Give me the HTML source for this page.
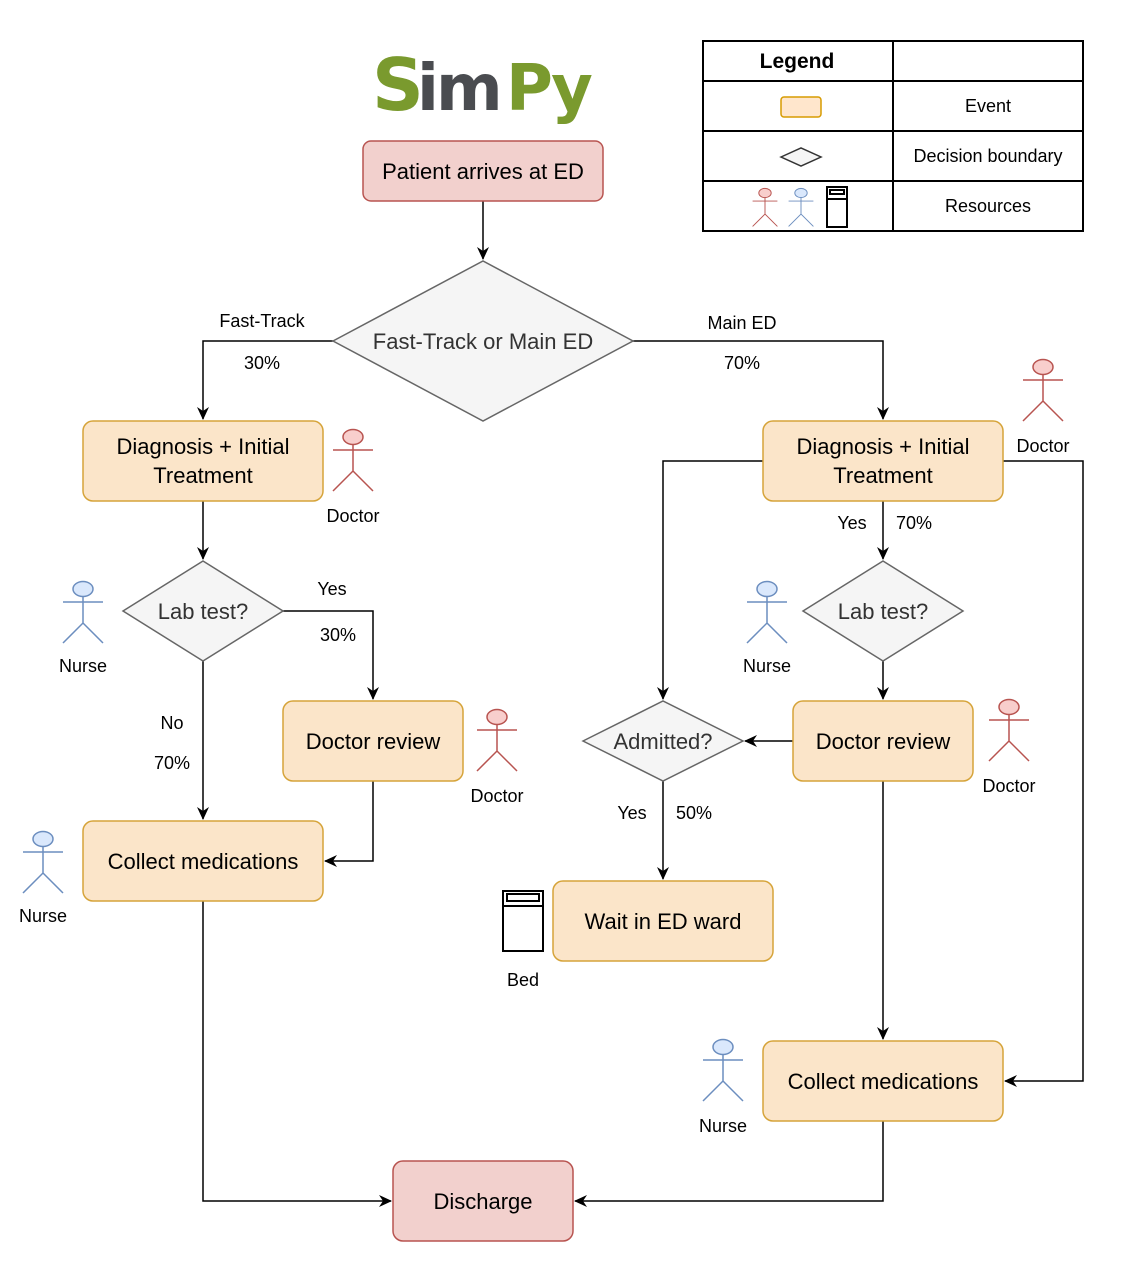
<!DOCTYPE html>
<html><head><meta charset="utf-8"><style>
html,body{margin:0;padding:0;background:#fff;}
svg{display:block;font-family:"Liberation Sans",Arial,sans-serif;}
</style></head><body>
<svg width="1132" height="1272" viewBox="0 0 1132 1272" xmlns="http://www.w3.org/2000/svg">
<defs>
<marker id="a" markerWidth="14" markerHeight="14" refX="12" refY="7" orient="auto" markerUnits="userSpaceOnUse">
<path d="M0,1 L13,7 L0,13 L4,7 Z" fill="#000"/>
</marker>
<g id="doc"><ellipse cx="0" cy="0" rx="10" ry="7.5" fill="#f8cecc" stroke="#b85450" stroke-width="1.5"/><path d="M0,7.5 V34 M-20,13 H20 M-20,54 L0,34 L20,54" stroke="#b85450" stroke-width="1.5" fill="none"/></g>
<g id="nur"><ellipse cx="0" cy="0" rx="10" ry="7.5" fill="#dae8fc" stroke="#6c8ebf" stroke-width="1.5"/><path d="M0,7.5 V34 M-20,13 H20 M-20,54 L0,34 L20,54" stroke="#6c8ebf" stroke-width="1.5" fill="none"/></g>
</defs>

<!-- logo -->
<text x="372" y="110" font-size="72" font-weight="bold" fill="#7a9a2e" font-family="DejaVu Sans, sans-serif">S</text>
<text x="417" y="110" font-size="64" font-weight="bold" fill="#4a4c50" font-family="DejaVu Sans, sans-serif" letter-spacing="-3">im</text>
<text x="506" y="110" font-size="64" font-weight="bold" fill="#7a9a2e" font-family="DejaVu Sans, sans-serif" letter-spacing="-3">Py</text>

<!-- legend -->
<g stroke="#000" stroke-width="2" fill="none">
<rect x="703" y="41" width="380" height="190"/>
<path d="M893,41 V231 M703,81 H1083 M703,131 H1083 M703,181 H1083"/>
</g>
<text x="797" y="68" font-size="21" font-weight="bold" text-anchor="middle">Legend</text>
<rect x="781" y="97" width="40" height="20" rx="3" fill="#ffe6cc" stroke="#d79b00" stroke-width="1.5"/>
<text x="988" y="112" font-size="18" text-anchor="middle">Event</text>
<path d="M781,157 L801,148 L821,157 L801,166 Z" fill="#f5f5f5" stroke="#333" stroke-width="1.5"/>
<text x="988" y="162" font-size="18" text-anchor="middle">Decision boundary</text>
<text x="988" y="212" font-size="18" text-anchor="middle">Resources</text>
<g transform="translate(765,193) scale(0.62)"><use href="#doc"/></g>
<g transform="translate(801,193) scale(0.62)"><use href="#nur"/></g>
<g fill="none" stroke="#000" stroke-width="2"><rect x="827" y="187" width="20" height="40"/><rect x="830" y="190" width="14" height="4"/><path d="M827,199 H847"/></g>

<!-- connectors -->
<g stroke="#000" stroke-width="1.5" fill="none" marker-end="url(#a)">
<path d="M483,201 V259"/>
<path d="M333,341 H203 V419"/>
<path d="M633,341 H883 V419"/>
<path d="M203,501 V559"/>
<path d="M283,611 H373 V699"/>
<path d="M203,661 V819"/>
<path d="M373,781 V861 H325"/>
<path d="M203,901 V1201 H391"/>
<path d="M763,461 H663 V699"/>
<path d="M1003,461 H1083 V1081 H1005"/>
<path d="M883,501 V559"/>
<path d="M883,661 V699"/>
<path d="M793,741 H745"/>
<path d="M663,781 V879"/>
<path d="M883,781 V1039"/>
<path d="M883,1121 V1201 H575"/>
</g>

<!-- nodes -->
<g stroke-width="1.5">
<rect x="363" y="141" width="240" height="60" rx="8" fill="#f2d0cd" stroke="#b85450"/>
<path d="M333,341 L483,261 L633,341 L483,421 Z" fill="#f5f5f5" stroke="#666"/>
<rect x="83" y="421" width="240" height="80" rx="10" fill="#fbe5c9" stroke="#d6a43a"/>
<rect x="763" y="421" width="240" height="80" rx="10" fill="#fbe5c9" stroke="#d6a43a"/>
<path d="M123,611 L203,561 L283,611 L203,661 Z" fill="#f5f5f5" stroke="#666"/>
<path d="M803,611 L883,561 L963,611 L883,661 Z" fill="#f5f5f5" stroke="#666"/>
<rect x="283" y="701" width="180" height="80" rx="10" fill="#fbe5c9" stroke="#d6a43a"/>
<rect x="793" y="701" width="180" height="80" rx="10" fill="#fbe5c9" stroke="#d6a43a"/>
<path d="M583,741 L663,701 L743,741 L663,781 Z" fill="#f5f5f5" stroke="#666"/>
<rect x="83" y="821" width="240" height="80" rx="10" fill="#fbe5c9" stroke="#d6a43a"/>
<rect x="553" y="881" width="220" height="80" rx="10" fill="#fbe5c9" stroke="#d6a43a"/>
<rect x="763" y="1041" width="240" height="80" rx="10" fill="#fbe5c9" stroke="#d6a43a"/>
<rect x="393" y="1161" width="180" height="80" rx="10" fill="#f2d0cd" stroke="#b85450"/>
</g>

<g font-size="22" text-anchor="middle" fill="#000">
<text x="483" y="179">Patient arrives at ED</text>
<text x="483" y="349" fill="#333">Fast-Track or Main ED</text>
<text x="203" y="454">Diagnosis + Initial</text>
<text x="203" y="483">Treatment</text>
<text x="883" y="454">Diagnosis + Initial</text>
<text x="883" y="483">Treatment</text>
<text x="203" y="619" fill="#333">Lab test?</text>
<text x="883" y="619" fill="#333">Lab test?</text>
<text x="373" y="749">Doctor review</text>
<text x="883" y="749">Doctor review</text>
<text x="663" y="749" fill="#333">Admitted?</text>
<text x="203" y="869">Collect medications</text>
<text x="663" y="929">Wait in ED ward</text>
<text x="883" y="1089">Collect medications</text>
<text x="483" y="1209">Discharge</text>
</g>

<g font-size="18" text-anchor="middle" fill="#000">
<text x="262" y="327">Fast-Track</text>
<text x="262" y="369">30%</text>
<text x="742" y="329">Main ED</text>
<text x="742" y="369">70%</text>
<text x="332" y="595">Yes</text>
<text x="338" y="641">30%</text>
<text x="172" y="729">No</text>
<text x="172" y="769">70%</text>
<text x="852" y="529">Yes</text>
<text x="914" y="529">70%</text>
<text x="632" y="819">Yes</text>
<text x="694" y="819">50%</text>
<text x="353" y="522">Doctor</text>
<text x="83" y="672">Nurse</text>
<text x="497" y="802">Doctor</text>
<text x="43" y="922">Nurse</text>
<text x="1043" y="452">Doctor</text>
<text x="767" y="672">Nurse</text>
<text x="1009" y="792">Doctor</text>
<text x="523" y="986">Bed</text>
<text x="723" y="1132">Nurse</text>
</g>

<use href="#doc" x="353" y="437"/>
<use href="#nur" x="83" y="589"/>
<use href="#doc" x="497" y="717"/>
<use href="#nur" x="43" y="839"/>
<use href="#doc" x="1043" y="367"/>
<use href="#nur" x="767" y="589"/>
<use href="#doc" x="1009" y="707"/>
<use href="#nur" x="723" y="1047"/>

<g fill="none" stroke="#000" stroke-width="2"><rect x="503" y="891" width="40" height="60"/><rect x="507" y="894" width="32" height="7"/><path d="M503,906 H543"/></g>
</svg>
</body></html>
